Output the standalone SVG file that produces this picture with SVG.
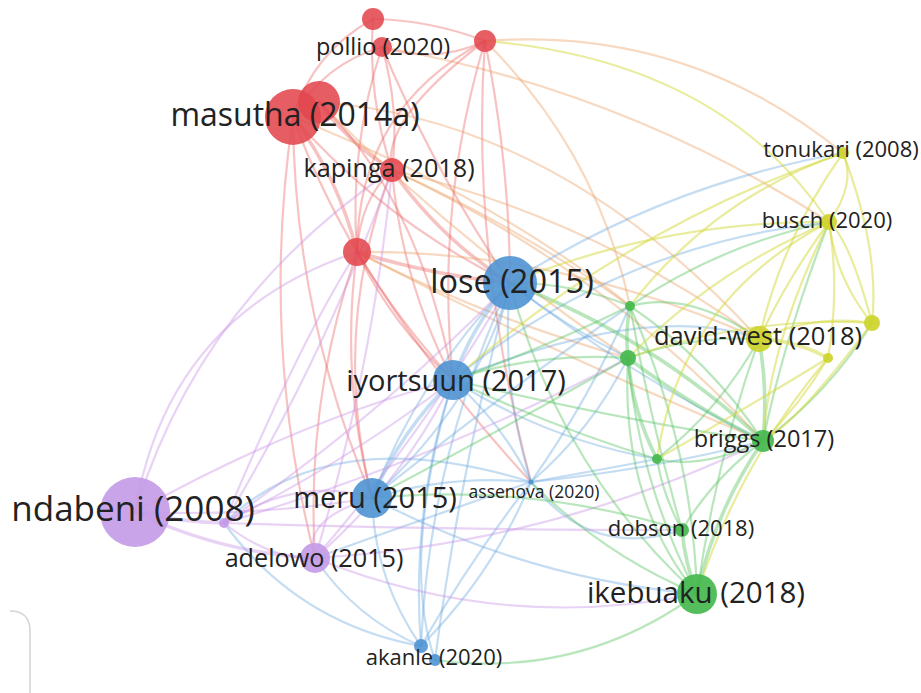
<svg xmlns="http://www.w3.org/2000/svg" width="921" height="693" viewBox="0 0 921 693">
<style>
#edges path{fill:none;stroke-width:2.2;stroke-linecap:round}
.r{stroke:#ea5a55;stroke-opacity:.36}
.b{stroke:#5ea2dc;stroke-opacity:.36}
.p{stroke:#c792e6;stroke-opacity:.4}
.g{stroke:#4fc05b;stroke-opacity:.4}
.y{stroke:#d3da3c;stroke-opacity:.5}
.o{stroke:#eb9a5c;stroke-opacity:.38}
.w{stroke-width:3.6!important}
.nr{fill:#e2474e;fill-opacity:.88}
.nb{fill:#4f93d3;fill-opacity:.9}
.np{fill:#c39ae6;fill-opacity:.9}
.ng{fill:#45b84f;fill-opacity:.92}
.ny{fill:#cdd42c;fill-opacity:.92}
text{font-family:"Open Sans","Noto Sans","Liberation Sans",sans-serif;fill:#222;text-anchor:middle}
</style>
<rect width="921" height="693" fill="#fff"/>
<path d="M10 611 Q30 611 30 631 V693" fill="none" stroke="#d4d4d4" stroke-width="1.5"/>
<g id="edges">
<path class="r" d="M382 47 Q434.7 64.6 485 41"/>
<path class="r" d="M373 19 Q367.4 96.4 392 170"/>
<path class="r" d="M382 47 Q349 147 357 252"/>
<path class="r w" d="M293 117 Q338.5 178 357 252"/>
<path class="r w" d="M319 102 Q348.7 143.3 392 170"/>
<path class="r" d="M382 47 Q323.5 64.2 293 117"/>
<path class="r" d="M485 41 Q357.7 108.1 357 252"/>
<path class="r" d="M485 41 Q509.6 163.3 510 283"/>
<path class="o" d="M485 41 Q597.3 151.8 630 306"/>
<path class="o" d="M485 41 Q686.4 25.4 843 153"/>
<path class="r" d="M485 41 Q435.1 207.3 453 380"/>
<path class="r w" d="M392 170 Q439.7 238.3 510 283"/>
<path class="r" d="M392 170 Q401.5 281.1 453 380"/>
<path class="o" d="M392 170 Q592.4 217.8 759 339"/>
<path class="o" d="M392 170 Q604.6 268.4 763 441"/>
<path class="r w" d="M357 252 Q432 275.2 510 283"/>
<path class="o" d="M357 252 Q487.2 318.6 628 358"/>
<path class="r" d="M357 252 Q392.2 325.6 453 380"/>
<path class="r" d="M357 252 Q339.9 376.5 372 498"/>
<path class="r" d="M357 252 Q305.4 400.8 315 558"/>
<path class="r" d="M293 117 Q346.7 264.5 453 380"/>
<path class="r" d="M293 117 Q384.9 221.7 510 283"/>
<path class="o" d="M319 102 Q460.7 245.5 628 358"/>
<path class="r" d="M293 117 Q294.4 315.4 372 498"/>
<path class="r" d="M373 19 Q313.4 52 293 117"/>
<path class="r" d="M382 47 Q434.2 171.4 510 283"/>
<path class="o" d="M382 47 Q623 89.8 829 222"/>
<path class="o" d="M392 170 Q517.8 226.1 630 306"/>
<path class="o" d="M357 252 Q556.2 354.6 763 441"/>
<path class="r" d="M357 252 Q432.5 375.7 531 482"/>
<path class="r" d="M293 117 Q259.9 339.7 315 558"/>
<path class="r" d="M485 41 Q380 120 392 170"/>
<path class="r" d="M373 19 Q430 20 485 41"/>
<path class="r" d="M382 47 Q400 110 392 170"/>
<path class="r" d="M392 170 Q360 200 357 252"/>
<path class="r" d="M319 102 Q420 200 453 380"/>
<path class="r" d="M485 41 Q470 250 531 482"/>
<path class="o" d="M357 252 Q560 250 759 339"/>
<path class="o" d="M319 102 Q560 120 759 339"/>
<path class="r" d="M392 170 Q330 330 372 498"/>
<path class="o" d="M293 117 Q500 200 630 306"/>
<path class="b w" d="M510 283 Q471.8 325.8 453 380"/>
<path class="b" d="M510 283 Q419.5 376.7 372 498"/>
<path class="b" d="M510 283 Q500.6 384.6 531 482"/>
<path class="b" d="M510 283 Q429.2 455.6 421 646"/>
<path class="b w" d="M453 380 Q400.7 430.9 372 498"/>
<path class="b" d="M453 380 Q410.4 509.8 421 646"/>
<path class="b" d="M372 498 Q374.3 579.4 421 646"/>
<path class="b" d="M531 482 Q449.9 474.1 372 498"/>
<path class="b" d="M531 482 Q492.4 575 421 646"/>
<path class="b" d="M531 482 Q502.2 423.2 453 380"/>
<path class="b" d="M531 482 Q591.9 429.7 628 358"/>
<path class="b" d="M531 482 Q589.3 399 630 306"/>
<path class="g" d="M435 660 Q579.2 679.4 697 594"/>
<path class="b" d="M224 523 Q297.9 623.9 421 646"/>
<path class="b" d="M315 558 Q354.8 617.9 421 646"/>
<path class="b" d="M510 283 Q565.3 326.4 628 358"/>
<path class="b" d="M510 283 Q628.6 374.7 763 441"/>
<path class="b" d="M453 380 Q547.1 439.9 657 459"/>
<path class="b" d="M372 498 Q524.9 578.5 697 594"/>
<path class="b" d="M453 380 Q617.3 244.6 829 222"/>
<path class="b" d="M510 283 Q663.5 184.7 843 153"/>
<path class="b" d="M531 482 Q590 560 682 530"/>
<path class="b" d="M421 646 Q470 560 531 482"/>
<path class="b" d="M531 482 Q420 520 315 558"/>
<path class="b" d="M531 482 Q650 470 763 441"/>
<path class="b" d="M531 482 Q600 470 657 459"/>
<path class="b" d="M531 482 Q330 420 224 523"/>
<path class="b" d="M435 660 Q400 560 453 380"/>
<path class="b" d="M435 660 Q460 470 510 283"/>
<path class="b" d="M372 498 Q480 400 510 283"/>
<path class="b" d="M453 380 Q650 300 759 339"/>
<path class="b" d="M372 498 Q520 380 630 306"/>
<path class="p" d="M357 252 Q168 315.4 135 512"/>
<path class="p w" d="M135 512 Q220.4 553 315 558"/>
<path class="p" d="M135 512 Q254.2 516.9 372 498"/>
<path class="p w" d="M135 512 Q180 522 224 523"/>
<path class="p" d="M224 523 Q345.7 463 453 380"/>
<path class="p" d="M224 523 Q379 417.3 510 283"/>
<path class="p" d="M315 558 Q401.8 482.8 453 380"/>
<path class="p" d="M315 558 Q426.3 430.3 510 283"/>
<path class="p" d="M315 558 Q372.9 367.9 392 170"/>
<path class="p" d="M315 558 Q500.6 633.3 697 594"/>
<path class="p" d="M224 523 Q434.3 460.7 628 358"/>
<path class="p" d="M224 523 Q325.7 354.9 392 170"/>
<path class="p" d="M315 558 Q550.7 544.3 763 441"/>
<path class="p" d="M224 523 Q300 475 372 498"/>
<path class="p" d="M224 523 Q270 560 315 558"/>
<path class="p" d="M135 512 Q300 420 453 380"/>
<path class="p" d="M135 512 Q200 300 392 170"/>
<path class="p" d="M224 523 Q300 340 357 252"/>
<path class="p" d="M315 558 Q300 520 372 498"/>
<path class="p" d="M224 523 Q430 530 682 530"/>
<path class="g w" d="M630 306 Q625 332 628 358"/>
<path class="g w" d="M628 358 Q632.4 411.4 657 459"/>
<path class="g" d="M628 358 Q638.9 482.9 697 594"/>
<path class="g w" d="M628 358 Q691.3 406.3 763 441"/>
<path class="g" d="M630 306 Q710 360.2 763 441"/>
<path class="g w" d="M763 441 Q714.7 510.9 697 594"/>
<path class="g" d="M763 441 Q713.6 477.4 682 530"/>
<path class="g" d="M657 459 Q663 496 682 530"/>
<path class="g w" d="M682 530 Q685 563 697 594"/>
<path class="g" d="M630 306 Q572.3 282.5 510 283"/>
<path class="g" d="M628 358 Q538.3 351.5 453 380"/>
<path class="g" d="M628 358 Q691.6 335.4 759 339"/>
<path class="g w" d="M763 441 Q768 390 759 339"/>
<path class="g" d="M697 594 Q602.8 554.6 531 482"/>
<path class="g" d="M630 306 Q721.1 244.1 829 222"/>
<path class="g" d="M763 441 Q785.1 334.8 829 222"/>
<path class="g" d="M657 459 Q720 409.2 759 339"/>
<path class="g" d="M697 594 Q715.3 463.4 759 339"/>
<path class="g" d="M697 594 Q692.3 443.3 630 306"/>
<path class="g w" d="M763 441 Q652.3 336.7 510 283"/>
<path class="g" d="M682 530 Q530.2 483 372 498"/>
<path class="g" d="M763 441 Q829.3 392.9 872 323"/>
<path class="g" d="M657 459 Q560 430 453 380"/>
<path class="g" d="M763 441 Q700 470 657 459"/>
<path class="g" d="M630 306 Q690 290 759 339"/>
<path class="g" d="M630 306 Q540 350 453 380"/>
<path class="g" d="M628 358 Q520 420 372 498"/>
<path class="g" d="M697 594 Q560 470 510 283"/>
<path class="g" d="M697 594 Q620 500 628 358"/>
<path class="g" d="M763 441 Q620 420 453 380"/>
<path class="g" d="M682 530 Q650 420 630 306"/>
<path class="y" d="M843 153 Q856.7 183.3 829 222"/>
<path class="y" d="M829 222 Q788.2 277 759 339"/>
<path class="y" d="M829 222 Q835.4 278.9 872 323"/>
<path class="y" d="M829 222 Q840 290 828 358"/>
<path class="y w" d="M759 339 Q795 340 828 358"/>
<path class="y" d="M759 339 Q813.1 314 872 323"/>
<path class="y" d="M829 222 Q714.9 269.9 628 358"/>
<path class="y" d="M843 153 Q713.5 197.5 630 306"/>
<path class="y" d="M843 153 Q782.4 237.6 759 339"/>
<path class="y" d="M828 358 Q800 405 763 441"/>
<path class="y" d="M872 323 Q746.5 316.1 628 358"/>
<path class="y" d="M843 153 Q625.3 227.5 453 380"/>
<path class="y" d="M828 358 Q738.9 462.9 697 594"/>
<path class="y" d="M829 222 Q663.4 220.6 510 283"/>
<path class="y" d="M872 323 Q850 240 829 222"/>
<path class="y" d="M843 153 Q880 250 872 323"/>
<path class="y" d="M485 41 Q720 60 829 222"/>
<path class="y" d="M828 358 Q760 400 657 459"/>
<path class="y" d="M829 222 Q680 300 657 459"/>
<path class="y" d="M872 323 Q800 420 763 441"/>
<path class="y" d="M829 222 Q770 340 763 441"/>
</g>
<g id="n-r1"><circle class="nr" cx="373" cy="19" r="11"/></g>
<g id="n-pollio"><circle class="nr" cx="382" cy="47" r="10"/><text x="383" y="55" font-size="23.5">pollio (2020)</text></g>
<g id="n-r3"><circle class="nr" cx="485" cy="41" r="11"/></g>
<g id="n-masutha"><circle class="nr" cx="293" cy="117" r="28"/><circle class="nr" cx="319" cy="102" r="21"/><text x="295" y="126" font-size="32">masutha (2014a)</text></g>
<g id="n-kapinga"><circle class="nr" cx="392" cy="170" r="12"/><text x="389" y="177" font-size="25.2">kapinga (2018)</text></g>
<g id="n-r7"><circle class="nr" cx="357" cy="252" r="14"/></g>
<g id="n-lose"><circle class="nb" cx="510" cy="283" r="27"/><text x="512" y="293" font-size="32.5">lose (2015)</text></g>
<g id="n-iyortsuun"><circle class="nb" cx="453" cy="380" r="20"/><text x="456" y="391" font-size="29">iyortsuun (2017)</text></g>
<g id="n-meru"><circle class="nb" cx="372" cy="498" r="20"/><text x="375" y="508" font-size="29">meru (2015)</text></g>
<g id="n-assenova"><circle class="nb" cx="531" cy="482" r="2.5"/><text x="534" y="498" font-size="17.5">assenova (2020)</text></g>
<g id="n-akanle"><circle class="nb" cx="421" cy="646" r="7"/><circle class="nb" cx="435" cy="660" r="6"/><text x="434" y="665" font-size="22">akanle (2020)</text></g>
<g id="n-ndabeni"><circle class="np" cx="135" cy="512" r="35"/><text x="133" y="521" font-size="35">ndabeni (2008)</text></g>
<g id="n-p2"><circle class="np" cx="224" cy="523" r="5"/></g>
<g id="n-adelowo"><circle class="np" cx="315" cy="558" r="15"/><text x="314" y="567" font-size="25.2">adelowo (2015)</text></g>
<g id="n-g1"><circle class="ng" cx="630" cy="306" r="5"/></g>
<g id="n-g2"><circle class="ng" cx="628" cy="358" r="8"/></g>
<g id="n-g3"><circle class="ng" cx="657" cy="459" r="5"/></g>
<g id="n-briggs"><circle class="ng" cx="763" cy="441" r="11"/><text x="764" y="447" font-size="23.5">briggs (2017)</text></g>
<g id="n-dobson"><circle class="ng" cx="682" cy="530" r="7"/><text x="681" y="536" font-size="22">dobson (2018)</text></g>
<g id="n-ikebuaku"><circle class="ng" cx="697" cy="594" r="20"/><text x="696" y="603" font-size="29.5">ikebuaku (2018)</text></g>
<g id="n-tonukari"><circle class="ny" cx="843" cy="153" r="6"/><text x="841" y="157" font-size="22">tonukari (2008)</text></g>
<g id="n-busch"><circle class="ny" cx="829" cy="222" r="8"/><text x="827" y="228" font-size="22">busch (2020)</text></g>
<g id="n-davidwest"><circle class="ny" cx="759" cy="339" r="13"/><text x="758" y="345" font-size="25.5">david-west (2018)</text></g>
<g id="n-y4"><circle class="ny" cx="872" cy="323" r="8"/></g>
<g id="n-y5"><circle class="ny" cx="828" cy="358" r="5"/></g>
</svg>
